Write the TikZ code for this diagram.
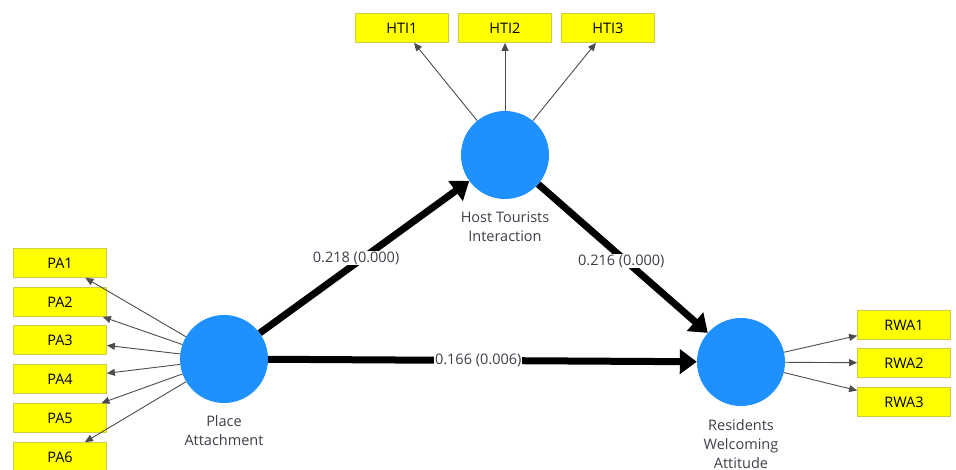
\documentclass[tikz,border=0pt]{standalone}
\usepackage{fontspec}
\setmainfont{Open Sans}
\usetikzlibrary{arrows.meta,positioning}
\definecolor{lvblue}{RGB}{30,144,255}
\definecolor{indyellow}{RGB}{255,255,0}
\definecolor{indedge}{RGB}{205,205,70}
\definecolor{txtgray}{RGB}{62,62,74}
\tikzset{
  latent/.style={circle,fill=lvblue,minimum size=88pt,inner sep=0pt},
  indicator/.style={rectangle,fill=indyellow,draw=indedge,line width=0.8pt,minimum width=93pt,minimum height=29pt,inner sep=0pt,text=black,font=\fontsize{14.5}{16}\selectfont},
  lvname/.style={align=center,text=txtgray,font=\fontsize{14.5}{19}\selectfont,inner sep=1pt},
  loading/.style={-{Triangle[length=8pt,width=7pt]},line width=0.9pt,draw=black!70},
  structural/.style={-{Triangle[length=17pt,width=24pt]},line width=7pt},
  coef/.style={fill=white,text=txtgray,font=\fontsize{14.5}{16}\selectfont,inner sep=1pt}
}
\begin{document}
\begin{tikzpicture}[x=1pt,y=-1pt]
\useasboundingbox (0,0) rectangle (956,469);
% latent variables
\node[latent] (hti) at (505,155) {};
\node[latent] (pa) at (224,359) {};
\node[latent] (rwa) at (741,362) {};
\node[lvname,below=11pt of hti] (htiname) {Host Tourists\\Interaction};
\node[lvname,below=11pt of pa] (paname) {Place\\Attachment};
\node[lvname,below=12pt of rwa] (rwaname) {Residents\\Welcoming\\Attitude};
% indicators
\node[indicator] (hti1) at (402,28) {HTI1};
\node[indicator] (hti2) at (505,28) {HTI2};
\node[indicator] (hti3) at (608,28) {HTI3};
\foreach \i/\y in {1/263,2/302,3/340,4/379,5/418,6/457}
  \node[indicator] (pa\i) at (60,\y) {PA\i};
\foreach \i/\y in {1/325,2/363,3/402}
  \node[indicator] (rwa\i) at (904,\y) {RWA\i};
% outer model
\foreach \i in {1,2,3} \draw[loading] (hti) -- (hti\i);
\foreach \i in {1,...,6} \draw[loading] (pa) -- (pa\i);
\foreach \i in {1,2,3} \draw[loading] (rwa) -- (rwa\i);
% inner model
\draw[structural] (pa) -- node[coef,pos=0.46,yshift=5pt] {0.218 (0.000)} (hti);
\draw[structural] (hti) -- node[coef,pos=0.49,yshift=-4pt] {0.216 (0.000)} (rwa);
\draw[structural] (pa) -- node[coef,pos=0.49] {0.166 (0.006)} (rwa);
\end{tikzpicture}
\end{document}
